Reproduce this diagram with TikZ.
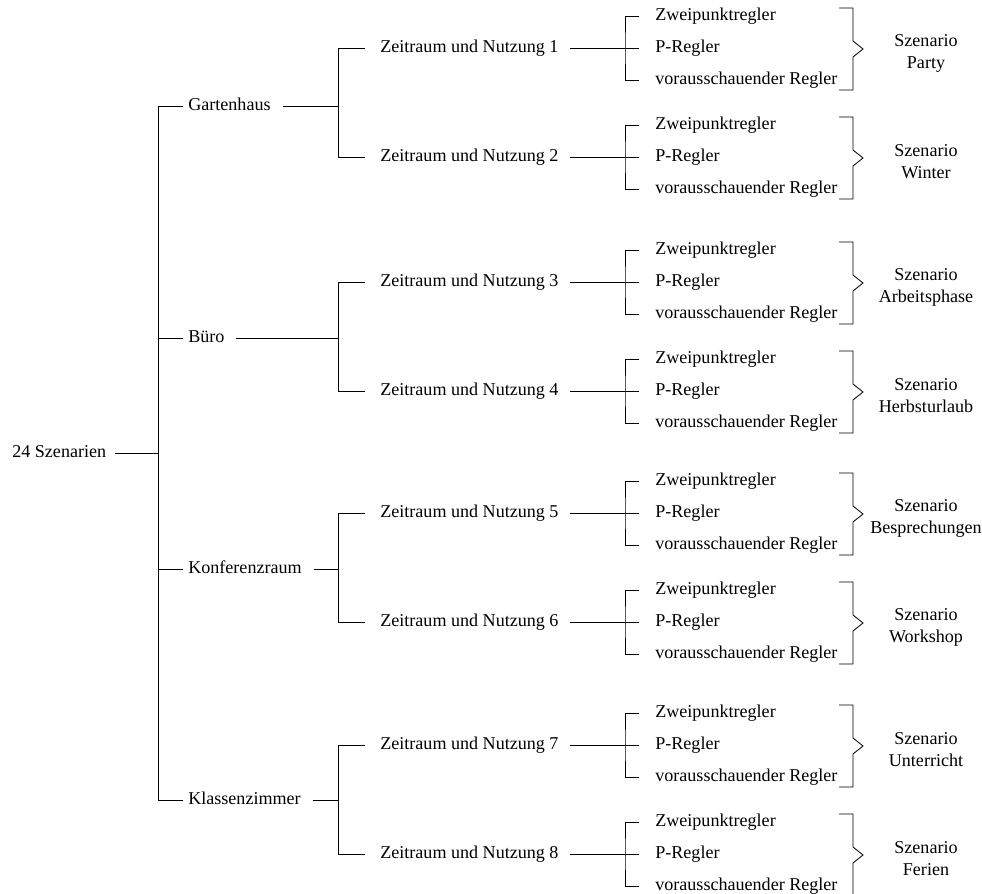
\documentclass[tikz,border=0pt]{standalone}
\usepackage{fontspec}
\setmainfont{Liberation Serif}
\usepackage{tikz}
\usetikzlibrary{positioning}
\tikzset{
  lab/.style={anchor=west, inner xsep=3pt, inner ysep=0pt, text height=1.5ex, text depth=.25ex},
  conn/.style={draw, line width=0.5pt},
  scen/.style={align=center, inner sep=0pt, font=\fontsize{10.9pt}{13.3pt}\selectfont}
}

\begin{document}
\begin{tikzpicture}[x=0.0212cm,y=-0.0212cm, font=\fontsize{10.9pt}{12pt}\selectfont]
\useasboundingbox (0,0) rectangle (982,894);

% root and trunk
\node[lab] (root) at (7,453) {24 Szenarien};
\coordinate (t) at (158,453);
\draw[conn, shorten <=2pt] (root.east) -- (t);

% rooms
\foreach \i/\name/\y in {1/Gartenhaus/106, 2/Büro/338, 3/Konferenzraum/569, 4/Klassenzimmer/800}{
  \node[lab] (r\i) at (183,\y) {\name};
  \draw[conn] (r\i.west) -| (t);
  \coordinate (b\i) at (338,\y);
  \draw[conn, shorten <=4pt] (r\i.east) -- (b\i);
}

% periods, controllers and scenarios
\foreach \j/\y/\p/\s in {1/48/1/Party, 2/157/1/Winter, 3/282/2/Arbeitsphase, 4/391/2/Herbsturlaub,
    5/513/3/Besprechungen, 6/622/3/Workshop, 7/745/4/Unterricht, 8/854/4/Ferien}{
  \node[lab] (z\j) at (375,\y) {Zeitraum und Nutzung \j};
  \draw[conn, shorten <=6pt] (z\j.west) -| (b\p);
  \node[lab] (k\j-1) at (650,\y-32) {Zweipunktregler};
  \node[lab] (k\j-2) at (650,\y) {P-Regler};
  \node[lab] (k\j-3) at (650,\y+32) {vorausschauender Regler};
  \draw[conn, shorten <=4pt, shorten >=6.5pt] (z\j.east) -- (k\j-2.west);
  \coordinate (c\j) at (625,\y);
  \draw[conn, shorten <=6.5pt, shorten >=6.5pt] (k\j-1.west) -| (c\j) |- (k\j-3.west);
  % brace
  \draw[conn] (839,\y-40) -| (853,\y-7) -- (863,\y+1) -- (853,\y+9) |- (839,\y+42);
  \node[scen] (s\j) at (926,\y+5) {Szenario\\\s};
}
\end{tikzpicture}
\end{document}
